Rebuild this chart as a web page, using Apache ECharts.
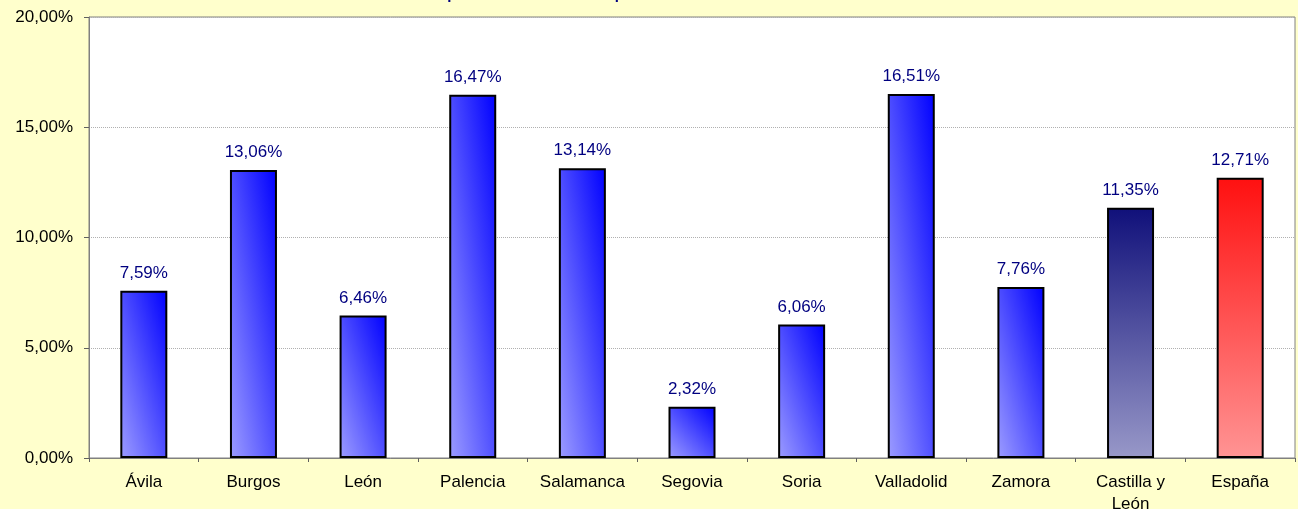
<!DOCTYPE html>
<html>
<head>
<meta charset="utf-8">
<script src="https://cdn.jsdelivr.net/npm/echarts@6/dist/echarts.min.js"></script>
<style>
  html, body { margin: 0; padding: 0; background: #ffffcc; }
  #chart { width: 1298px; height: 509px; }
</style>
</head>
<body>
<div id="chart"></div>
<script>
const provincias = ['Ávila', 'Burgos', 'León', 'Palencia', 'Salamanca', 'Segovia', 'Soria', 'Valladolid', 'Zamora', 'Castilla y\nLeón', 'España']
const tasas = [7.59, 13.06, 6.46, 16.47, 13.14, 2.32, 6.06, 16.51, 7.76, 11.35, 12.71]
const yTicks = [0, 5, 10, 15, 20]

const fmt = v => v.toFixed(2).replace('.', ',') + '%'

const BAR_W = 47
const PLOT_H = 441
const Y_MAX = 20

// excel-style diagonal fill: isolines run along the bar's corner-to-corner diagonal
function azul(v) {
  const w = BAR_W
  const h = Math.max(v / Y_MAX * PLOT_H, 1)
  const L2 = w * w + h * h
  return new echarts.graphic.LinearGradient(0, 1, 2 * h * h / L2, 1 - 2 * w * w / L2, [
    { offset: 0, color: '#9c9cff' },
    { offset: 1, color: '#0000ff' }
  ])
}
const regional = new echarts.graphic.LinearGradient(0, 0, 0, 1, [
  { offset: 0, color: '#10107a' },
  { offset: 1, color: '#9898c8' }
])
const nacional = new echarts.graphic.LinearGradient(0, 0, 0, 1, [
  { offset: 0, color: '#ff1010' },
  { offset: 1, color: '#ff9494' }
])

function colorFor(i) {
  if (provincias[i] === 'España') return nacional
  if (provincias[i].startsWith('Castilla')) return regional
  return azul(tasas[i])
}

const chart = echarts.init(document.getElementById('chart'))
chart.setOption({
  backgroundColor: '#ffffcc',
  animation: false,
  title: {
    text: 'Variación Septiembre 2011 sobre Septiembre 2010',
    left: 358,
    top: -13,
    padding: 0,
    textStyle: { fontFamily: 'Liberation Sans, Arial', fontSize: 15, fontWeight: 'bold', color: '#000080' }
  },
  grid: {
    left: 89, right: 3, top: 17, bottom: 51,
    outerBoundsMode: 'none',
    show: true, backgroundColor: '#ffffff', borderColor: '#808080', borderWidth: 1
  },
  xAxis: {
    type: 'category',
    data: provincias,
    axisLine: { lineStyle: { color: '#808080', width: 1 } },
    axisTick: { show: true, interval: 0, length: 4, lineStyle: { color: '#606060' } },
    axisLabel: { interval: 0, color: '#000', fontFamily: 'Liberation Sans, Arial', fontSize: 17, margin: 13, lineHeight: 22 }
  },
  yAxis: {
    type: 'value',
    min: 0, max: Y_MAX, interval: 5,
    axisLine: { show: true, lineStyle: { color: '#808080', width: 1 } },
    axisTick: { show: true, length: 5, lineStyle: { color: '#606060' } },
    splitLine: { lineStyle: { color: '#b0b0b0', type: 'dotted' } },
    axisLabel: {
      color: '#000', fontFamily: 'Liberation Sans, Arial', fontSize: 17, margin: 16,
      formatter: v => yTicks.includes(v) ? fmt(v) : ''
    }
  },
  series: [{
    type: 'bar',
    barWidth: BAR_W,
    data: tasas.map((v, i) => ({
      value: v,
      itemStyle: { color: colorFor(i), borderColor: '#000', borderWidth: 2 }
    })),
    label: {
      show: true,
      position: 'top',
      distance: 9,
      color: '#000080',
      fontFamily: 'Liberation Sans, Arial',
      fontSize: 17,
      formatter: p => fmt(p.value)
    }
  }]
})
</script>
</body>
</html>
